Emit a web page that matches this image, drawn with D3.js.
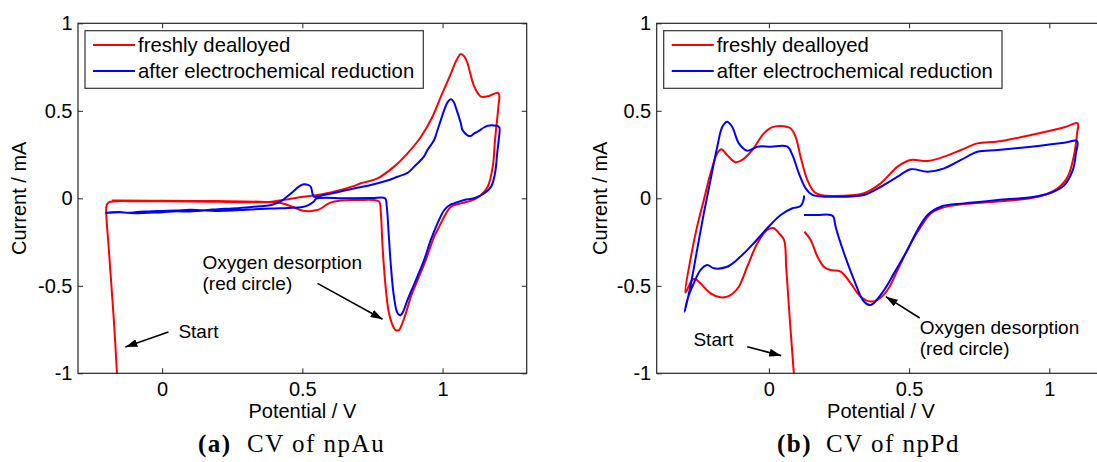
<!DOCTYPE html>
<html>
<head>
<meta charset="utf-8">
<script src="https://cdn.jsdelivr.net/npm/d3@7"></script>
<style>
body{margin:0;background:#fff;overflow:hidden;}
text{font-family:"Liberation Sans",Arial,sans-serif;fill:#000;}
</style>
</head>
<body>
<svg id="chart" width="1097" height="462"></svg>
<script>
// npAu, freshly dealloyed (potential V, current mA)
var auRedV = [-0.161,-0.172,-0.183,-0.192,-0.199,-0.199,-0.195,-0.185,-0.15,-0.1,0.0,0.1,0.2,0.3,0.39,0.45,0.505,0.56,0.626,0.68,0.708,0.768,0.827,0.875,0.923,0.964,0.994,1.03,1.05,1.065,1.078,1.089,1.113,1.137,1.166,1.196,1.202,1.199,1.187,1.179,1.161,1.137,1.107,1.065,1.03,1.006,0.982,0.97,0.94,0.911,0.887,0.869,0.855,0.845,0.835,0.827,0.809,0.798,0.786,0.78,0.774,0.756,0.7,0.637,0.6,0.583,0.558,0.535,0.512,0.49,0.466,0.423,0.35,0.2,0.0,-0.15,-0.18];
var auRedI = [-1.0,-0.7,-0.45,-0.25,-0.1,-0.05,-0.03,-0.02,-0.016,-0.017,-0.017,-0.018,-0.02,-0.022,-0.02,-0.005,0.009,0.02,0.044,0.068,0.086,0.114,0.181,0.257,0.352,0.466,0.581,0.714,0.79,0.825,0.81,0.771,0.638,0.581,0.585,0.603,0.59,0.523,0.333,0.181,0.066,0.019,-0.01,-0.029,-0.048,-0.105,-0.181,-0.219,-0.353,-0.467,-0.562,-0.657,-0.72,-0.753,-0.755,-0.743,-0.657,-0.524,-0.277,-0.086,-0.019,-0.01,-0.01,-0.013,-0.025,-0.04,-0.065,-0.072,-0.073,-0.065,-0.05,-0.027,-0.02,-0.016,-0.014,-0.012,-0.012];

// npAu, after electrochemical reduction
var auBlueV = [-0.202,-0.18,-0.15,-0.12,-0.09,-0.05,0.0,0.05,0.1,0.15,0.2,0.25,0.3,0.35,0.39,0.43,0.46,0.49,0.506,0.522,0.53,0.536,0.541,0.58,0.625,0.68,0.744,0.8,0.839,0.875,0.899,0.934,0.946,0.97,0.982,0.994,1.006,1.018,1.03,1.04,1.048,1.065,1.071,1.089,1.1,1.113,1.125,1.149,1.161,1.19,1.202,1.2,1.196,1.187,1.173,1.149,1.113,1.077,1.041,1.03,1.006,0.982,0.958,0.934,0.905,0.875,0.86,0.851,0.844,0.837,0.825,0.815,0.807,0.801,0.795,0.75,0.65,0.55,0.54,0.52,0.5,0.45,0.39,0.3,0.25,0.2,0.15,0.1,0.05,0.0,-0.05,-0.1,-0.15,-0.19];
var auBlueI = [-0.085,-0.08,-0.078,-0.083,-0.078,-0.075,-0.072,-0.07,-0.066,-0.068,-0.062,-0.058,-0.052,-0.045,-0.038,-0.01,0.029,0.07,0.08,0.075,0.066,0.029,0.009,0.02,0.035,0.055,0.076,0.1,0.123,0.145,0.181,0.24,0.276,0.333,0.39,0.448,0.505,0.55,0.566,0.55,0.515,0.429,0.39,0.36,0.356,0.371,0.381,0.406,0.415,0.415,0.406,0.33,0.276,0.143,0.066,0.029,0.0,-0.01,-0.029,-0.035,-0.067,-0.143,-0.238,-0.353,-0.467,-0.581,-0.645,-0.667,-0.665,-0.648,-0.543,-0.371,-0.181,-0.048,0.0,0.002,0.0,-0.002,-0.02,-0.04,-0.05,-0.055,-0.058,-0.065,-0.07,-0.072,-0.07,-0.076,-0.074,-0.08,-0.082,-0.085,-0.08,-0.082];

// npPd, freshly dealloyed
var pdRedV = [0.089,0.075,0.062,0.054,0.036,0.018,-0.006,-0.041,-0.077,-0.107,-0.13,-0.149,-0.173,-0.208,-0.244,-0.262,-0.274,-0.286,-0.298,-0.28,-0.256,-0.232,-0.208,-0.184,-0.169,-0.149,-0.119,-0.095,-0.059,-0.018,0.01,0.042,0.077,0.095,0.113,0.137,0.161,0.185,0.22,0.339,0.399,0.459,0.506,0.566,0.625,0.685,0.744,0.816,0.935,1.054,1.101,1.099,1.087,1.066,1.03,0.959,0.816,0.696,0.613,0.578,0.542,0.506,0.459,0.423,0.387,0.363,0.327,0.292,0.256,0.22,0.196,0.173,0.149,0.127];
var pdRedI = [-1.0,-0.7,-0.4,-0.238,-0.2,-0.171,-0.181,-0.257,-0.391,-0.505,-0.545,-0.562,-0.566,-0.543,-0.486,-0.461,-0.467,-0.505,-0.539,-0.352,-0.162,-0.01,0.143,0.257,0.28,0.247,0.206,0.219,0.276,0.371,0.405,0.413,0.4,0.352,0.238,0.105,0.038,0.019,0.013,0.029,0.086,0.181,0.219,0.213,0.238,0.276,0.314,0.324,0.362,0.406,0.429,0.371,0.238,0.124,0.057,0.009,-0.019,-0.033,-0.057,-0.086,-0.162,-0.257,-0.41,-0.524,-0.581,-0.59,-0.562,-0.486,-0.419,-0.41,-0.391,-0.333,-0.238,-0.191];

// npPd, after electrochemical reduction
var pdBlueV = [0.125,0.125,0.113,0.084,0.042,-0.006,-0.054,-0.101,-0.149,-0.196,-0.22,-0.244,-0.268,-0.291,-0.3,-0.28,-0.256,-0.232,-0.208,-0.184,-0.166,-0.149,-0.131,-0.107,-0.077,-0.041,0.006,0.066,0.084,0.107,0.131,0.155,0.196,0.22,0.339,0.399,0.459,0.506,0.566,0.625,0.685,0.744,0.816,0.935,1.054,1.099,1.095,1.084,1.054,1.006,0.935,0.816,0.696,0.613,0.566,0.53,0.494,0.446,0.411,0.363,0.339,0.304,0.268,0.238,0.23,0.22,0.173,0.125];
var pdBlueI = [0.015,0.0,-0.044,-0.057,-0.095,-0.171,-0.257,-0.333,-0.391,-0.4,-0.381,-0.41,-0.486,-0.581,-0.648,-0.505,-0.295,-0.086,0.105,0.295,0.409,0.438,0.409,0.314,0.272,0.295,0.295,0.295,0.247,0.143,0.057,0.019,0.009,0.009,0.019,0.066,0.124,0.166,0.152,0.171,0.219,0.266,0.276,0.295,0.318,0.327,0.257,0.162,0.076,0.032,0.006,-0.01,-0.029,-0.048,-0.095,-0.181,-0.295,-0.429,-0.524,-0.61,-0.59,-0.467,-0.314,-0.162,-0.105,-0.095,-0.095,-0.095];

var seriesNames = ["freshly dealloyed", "after electrochemical reduction"];
var seriesColors = ["#ff0000", "#0000ff"];
var xTicks = [0, 0.5, 1];
var yTicks = [-1, -0.5, 0, 0.5, 1];
var xLabel = "Potential / V";
var yLabel = "Current / mA";

var svg = d3.select("#chart");
var plotW = 448.7, plotH = 350, plotTop = 23.3;

svg.append("defs").append("marker")
    .attr("id", "arrow")
    .attr("markerUnits", "userSpaceOnUse")
    .attr("viewBox", "0 0 12 8")
    .attr("refX", 12).attr("refY", 4)
    .attr("markerWidth", 12).attr("markerHeight", 8)
    .attr("orient", "auto")
    .append("path").attr("d", "M0,0L12,4L0,8z").attr("fill", "#000");

var panels = [
    {id: "au", left: 78, xDomain: [-0.3, 1.3], yLabelX: 26,
     curves: [[auRedV, auRedI], [auBlueV, auBlueI]],
     caption: ["(a)", "CV of npAu"], capX: 198,
     notes: [{t: ["Start"], x: 0.058, y: -0.798, ax: [0.0225, -0.764, -0.131, -0.85]},
             {t: ["Oxygen desorption", "(red circle)"], x: 0.144, y: -0.404, ax: [0.554, -0.486, 0.786, -0.691]}]},
    {id: "pd", left: 656.7, xDomain: [-0.4, 1.2], yLabelX: 607,
     curves: [[pdRedV, pdRedI], [pdBlueV, pdBlueI]],
     caption: ["(b)", "CV of npPd"], capX: 777,
     notes: [{t: ["Start"], x: -0.269, y: -0.844, ax: [-0.077, -0.848, 0.044, -0.899]},
             {t: ["Oxygen desorption", "(red circle)"], x: 0.538, y: -0.775, ax: [0.538, -0.684, 0.417, -0.562]}]}
];

panels.forEach(function (p) {
    var x = d3.scaleLinear().domain(p.xDomain).range([0, plotW]);
    var y = d3.scaleLinear().domain([-1, 1]).range([plotH, 0]);
    var g = svg.append("g").attr("transform", "translate(" + p.left + "," + plotTop + ")");

    g.append("clipPath").attr("id", "clip-" + p.id)
        .append("rect").attr("width", plotW).attr("height", plotH);

    // axes, ticks pointing inward on all four sides
    var styleAxis = function (sel) {
        sel.select(".domain").remove();
        sel.selectAll(".tick line").attr("stroke", "#262626");
        sel.selectAll("text").style("font-size", "20px").style("font-family", '"Liberation Sans",Arial,sans-serif').attr("fill", "#000");
    };
    g.append("g").attr("transform", "translate(0," + plotH + ")")
        .call(d3.axisBottom(x).tickValues(xTicks).tickFormat(d3.format("")).tickSize(-5).tickPadding(8.5))
        .call(styleAxis);
    g.append("g")
        .call(d3.axisTop(x).tickValues(xTicks).tickFormat("").tickSize(-5))
        .call(styleAxis);
    g.append("g")
        .call(d3.axisLeft(y).tickValues(yTicks).tickFormat(d3.format("")).tickSize(-5).tickPadding(5.5))
        .call(styleAxis);
    g.append("g").attr("transform", "translate(" + plotW + ",0)")
        .call(d3.axisRight(y).tickValues(yTicks).tickFormat("").tickSize(-5))
        .call(styleAxis);
    g.selectAll(".tick text").text(function () { return this.textContent.replace("\u2212", "-"); });

    var line = d3.line()
        .curve(d3.curveCatmullRom.alpha(0.5))
        .x(function (d) { return x(d[0]); })
        .y(function (d) { return y(d[1]); });
    var cg = g.append("g").attr("clip-path", "url(#clip-" + p.id + ")");
    p.curves.forEach(function (c, i) {
        cg.append("path")
            .datum(d3.zip(c[0], c[1]))
            .attr("d", line)
            .attr("fill", "none")
            .attr("stroke", seriesColors[i])
            .attr("stroke-width", 2)
            .attr("stroke-linejoin", "round");
    });

    g.append("rect").attr("width", plotW).attr("height", plotH)
        .attr("fill", "none").attr("stroke", "#262626").attr("stroke-width", 1.2);

    // legend
    var lg = g.append("g").attr("transform", "translate(7,7.4)");
    lg.append("rect").attr("width", 338.3).attr("height", 57.6)
        .attr("fill", "#fff").attr("stroke", "#333").attr("stroke-width", 1.2);
    seriesNames.forEach(function (name, i) {
        var ly = 14.3 + i * 26;
        lg.append("line").attr("x1", 8).attr("x2", 50).attr("y1", ly).attr("y2", ly)
            .attr("stroke", seriesColors[i]).attr("stroke-width", 2);
        lg.append("text").attr("x", 53).attr("y", ly + 7.5).style("font-size", "20.3px").text(name);
    });

    // annotations
    p.notes.forEach(function (n) {
        n.t.forEach(function (t, k) {
            g.append("text").attr("x", x(n.x)).attr("y", y(n.y) + k * 21.5)
                .style("font-size", "19px").text(t);
        });
        g.append("line")
            .attr("x1", x(n.ax[0])).attr("y1", y(n.ax[1]))
            .attr("x2", x(n.ax[2])).attr("y2", y(n.ax[3]))
            .attr("stroke", "#000").attr("stroke-width", 1.6)
            .attr("marker-end", "url(#arrow)");
    });

    // axis titles
    g.append("text").attr("x", plotW / 2).attr("y", 418 - plotTop)
        .attr("text-anchor", "middle").style("font-size", "20px").text(xLabel);
    svg.append("text")
        .attr("transform", "translate(" + p.yLabelX + "," + (plotTop + plotH / 2) + ") rotate(-90)")
        .attr("text-anchor", "middle").style("font-size", "20px").text(yLabel);

    // caption
    svg.append("text").attr("x", p.capX).attr("y", 452)
        .style("font-family", '"Liberation Serif","Times New Roman",serif')
        .style("font-weight", "bold").style("font-size", "25px").style("letter-spacing", "1.5px")
        .text(p.caption[0]);
    svg.append("text").attr("x", p.capX + 49).attr("y", 452)
        .style("font-family", '"Liberation Serif","Times New Roman",serif')
        .style("font-size", "25px").style("letter-spacing", "1.5px")
        .text(p.caption[1]);
});
</script>
</body>
</html>
